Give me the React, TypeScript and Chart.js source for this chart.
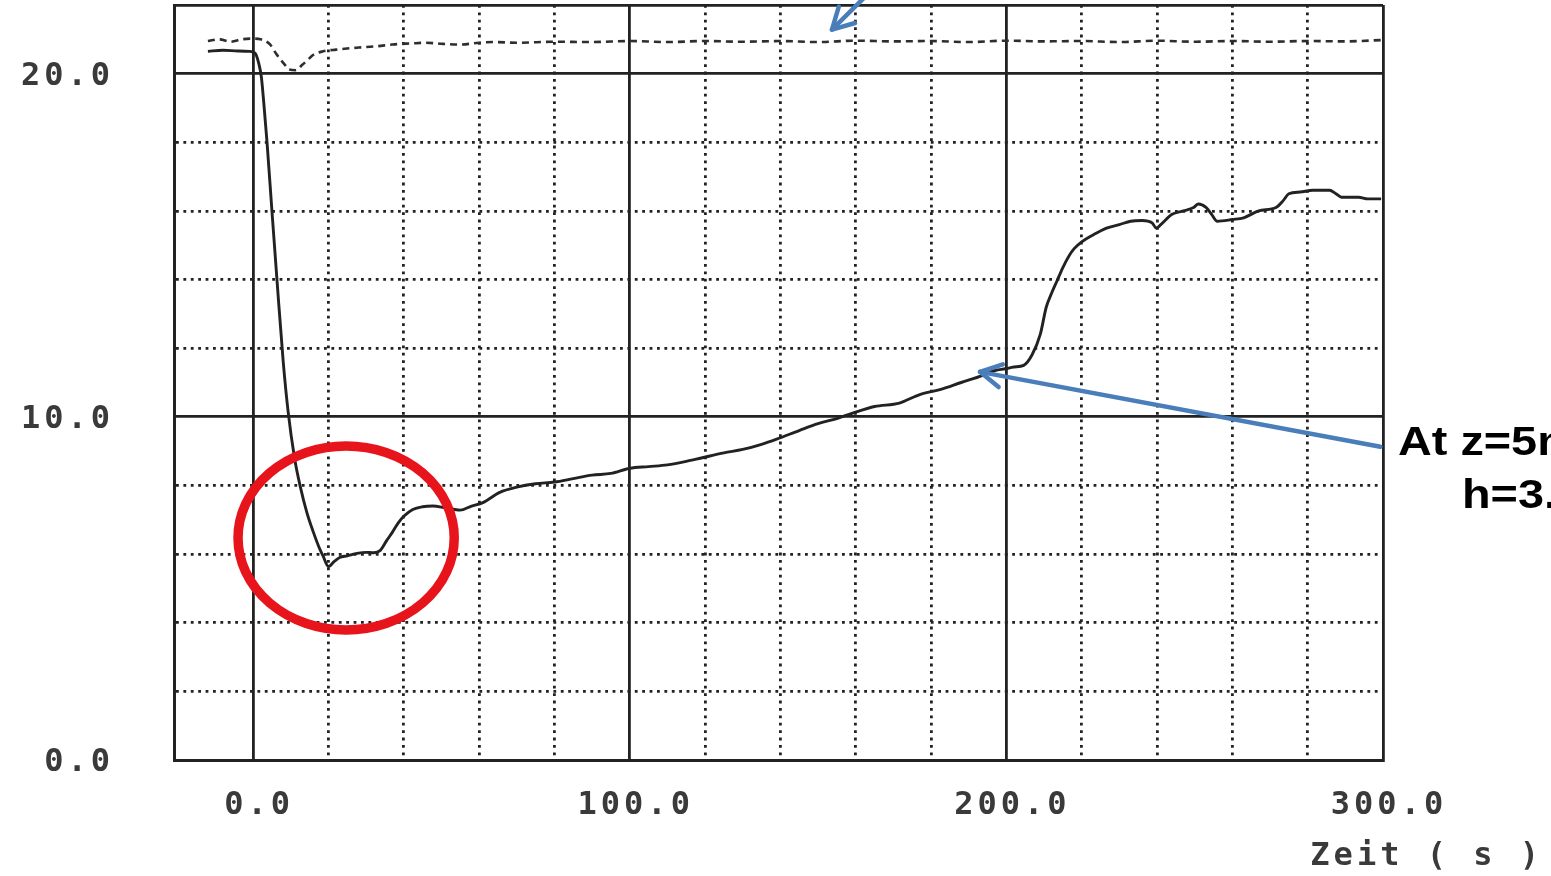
import React, { useEffect, useRef } from "react";
import { Chart, registerables } from "chart.js";

Chart.register(...registerables);

// ---- axis ticks / labels ----
const X_MIN = -21;
const X_MAX = 300;
const X_STEP = 20;
const Y_MIN = 0;
const Y_MAX = 22;
const Y_STEP = 2;
const xTickValues = [0, 100, 200, 300];
const xTickLabels = ["0.0", "100.0", "200.0", "300.0"];
const yTickValues = [0, 10, 20];
const yTickLabels = ["0.0", "10.0", "20.0"];
const xAxisTitle = "Zeit ( s )";
const calloutLines = ["At z=5m", "h=3."];

// ---- solid trace ----
const solidTimes = [
  -12, -8, -4, -1, 0.5, 1.5, 2.2, 2.8, 3.7, 5, 6.4, 8, 9.3, 11, 12.5, 14.3, 16, 17.5, 18.6, 20,
  21.5, 23, 25, 27.6, 30, 32, 33.7, 35.5, 37, 38.5, 40, 42.4, 45, 47.7, 51, 55, 58, 61, 65.5, 70,
  75, 80, 85, 90, 95, 100, 105, 110, 115, 119, 125, 130, 135, 139, 145, 150, 155, 159, 165, 171.6,
  177, 182.6, 188, 193.6, 197, 199.7, 202, 204.6, 206.8, 209, 210.6, 212, 213.4, 215, 216.7, 218, 220, 223, 226.6, 230,
  233, 236, 238.7, 239.8, 241, 244, 247, 249.7, 251, 253, 254.5, 256, 260, 263, 267, 271.6, 273.5, 275, 278, 281.4,
  285.8, 287.5, 289, 293.5, 296, 299.5,
];
const solidValues = [
  20.65, 20.68, 20.66, 20.65, 20.6, 20.3, 19.9, 19.2, 18.0, 16.0, 13.9, 11.6, 10.15, 8.8, 7.98, 7.2, 6.64, 6.2, 5.94, 5.64,
  5.78, 5.9, 5.95, 6.02, 6.05, 6.04, 6.1, 6.4, 6.64, 6.9, 7.1, 7.3, 7.38, 7.4, 7.35, 7.28, 7.4, 7.5, 7.8, 7.95,
  8.05, 8.1, 8.2, 8.3, 8.35, 8.5, 8.55, 8.6, 8.7, 8.8, 8.95, 9.05, 9.2, 9.35, 9.6, 9.8, 9.95, 10.1, 10.3, 10.4,
  10.65, 10.8, 11.0, 11.2, 11.35, 11.4, 11.45, 11.5, 11.8, 12.4, 13.2, 13.6, 13.95, 14.35, 14.7, 14.9, 15.1, 15.3, 15.5, 15.6,
  15.7, 15.72, 15.65, 15.5, 15.6, 15.9, 16.0, 16.1, 16.2, 16.1, 15.9, 15.7, 15.75, 15.8, 16.0, 16.1, 16.3, 16.5, 16.55, 16.6,
  16.6, 16.5, 16.4, 16.4, 16.35, 16.35,
];

// ---- dashed trace ----
const dashedTimes = [
  -12, -9, -6, -3, 0, 2, 4.5, 6, 7, 8.5, 9.5, 11.4, 13, 14.5, 16, 18.6, 22, 28, 33, 37,
  42, 46, 50, 55, 60, 64, 70, 80, 90, 100, 110, 120, 130, 140, 150, 160, 170, 180, 190, 200,
  210, 220, 230, 240, 250, 260, 270, 280, 290, 300,
];
const dashedValues = [
  20.95, 21.0, 20.93, 21.0, 21.02, 21.0, 20.85, 20.6, 20.45, 20.25, 20.12, 20.1, 20.25, 20.4, 20.55, 20.65, 20.7, 20.76, 20.8, 20.85,
  20.88, 20.9, 20.87, 20.85, 20.9, 20.92, 20.9, 20.93, 20.92, 20.95, 20.92, 20.95, 20.93, 20.95, 20.92, 20.96, 20.94, 20.95, 20.92, 20.96,
  20.94, 20.95, 20.92, 20.96, 20.93, 20.95, 20.93, 20.95, 20.94, 20.98,
];

// ---- annotations (data coordinates) ----
const ring = { x: 24.7, y: 6.47, rx: 28.7, ry: 2.68 };
const pointerMain = { from: { x: 299.3, y: 9.13 }, to: { x: 193, y: 11.31 } };
const pointerTop = { from: { x: 163.5, y: 22.35 }, to: { x: 153.7, y: 21.28 } };

const INK = "#222222";
const LABEL_INK = "#3a3a3a";
const MONO = '"DejaVu Sans Mono", monospace';

function isXMajor(v: number) {
  return xTickValues.includes(v) || v <= X_MIN;
}
function isYMajor(v: number) {
  return yTickValues.includes(v) || v >= Y_MAX;
}

function drawArrow(ctx: CanvasRenderingContext2D, x1: number, y1: number, x2: number, y2: number) {
  ctx.strokeStyle = "#4a7ebb";
  ctx.lineWidth = 4.5;
  ctx.lineCap = "round";
  ctx.lineJoin = "round";
  ctx.beginPath();
  ctx.moveTo(x1, y1);
  ctx.lineTo(x2, y2);
  ctx.stroke();
  const ang = Math.atan2(y1 - y2, x1 - x2);
  const head = 24;
  const a = 0.5;
  ctx.beginPath();
  ctx.moveTo(x2 + head * Math.cos(ang + a), y2 + head * Math.sin(ang + a));
  ctx.lineTo(x2, y2);
  ctx.lineTo(x2 + head * Math.cos(ang - a), y2 + head * Math.sin(ang - a));
  ctx.stroke();
}

const plotterPlugin = {
  id: "plotterLook",
  beforeDraw(chart: any) {
    const ctx = chart.ctx as any;
    ctx.letterSpacing = "4px";
  },
  afterDraw(chart: any) {
    const ctx = chart.ctx as CanvasRenderingContext2D & { letterSpacing: string };
    const x = chart.scales.x;
    const y = chart.scales.y;
    ctx.save();
    ctx.letterSpacing = "0px";

    // red ring
    const cx = x.getPixelForValue(ring.x);
    const cy = y.getPixelForValue(ring.y);
    const rx = Math.abs(x.getPixelForValue(ring.x + ring.rx) - cx);
    const ry = Math.abs(y.getPixelForValue(ring.y + ring.ry) - cy);
    ctx.beginPath();
    ctx.ellipse(cx, cy, rx, ry, 0, 0, Math.PI * 2);
    ctx.strokeStyle = "#e8141c";
    ctx.lineWidth = 9.5;
    ctx.stroke();

    // arrows
    drawArrow(
      ctx,
      x.getPixelForValue(pointerMain.from.x),
      y.getPixelForValue(pointerMain.from.y),
      x.getPixelForValue(pointerMain.to.x),
      y.getPixelForValue(pointerMain.to.y)
    );
    drawArrow(
      ctx,
      x.getPixelForValue(pointerTop.from.x),
      y.getPixelForValue(pointerTop.from.y),
      x.getPixelForValue(pointerTop.to.x),
      y.getPixelForValue(pointerTop.to.y)
    );

    // callout text
    ctx.fillStyle = "#000";
    ctx.font = 'bold 40px "Liberation Sans", Arial, sans-serif';
    ctx.textBaseline = "alphabetic";
    ctx.textAlign = "left";
    const base = y.getPixelForValue(10);
    const lines = [
      { t: calloutLines[0], px: x.right + 15, py: base + 38 },
      { t: calloutLines[1], px: x.right + 79, py: base + 91 },
    ];
    for (const l of lines) {
      ctx.save();
      ctx.translate(l.px, l.py);
      ctx.scale(1.17, 1);
      ctx.fillText(l.t, 0, 0);
      ctx.restore();
    }
    ctx.restore();
  },
};

export default function App() {
  const ref = useRef<HTMLCanvasElement>(null);

  useEffect(() => {
    const canvas = ref.current;
    if (!canvas) return;
    const solid = solidTimes.map((t, i) => ({ x: t, y: solidValues[i] }));
    const dashed = dashedTimes.map((t, i) => ({ x: t, y: dashedValues[i] }));

    const chart = new Chart(canvas, {
      type: "line",
      data: {
        datasets: [
          {
            label: "z=5m",
            data: solid,
            borderColor: "#222",
            borderWidth: 2.9,
            pointRadius: 0,
            cubicInterpolationMode: "monotone",
            fill: false,
          },
          {
            label: "reference",
            data: dashed,
            borderColor: "#2e2e2e",
            borderWidth: 2.6,
            borderDash: [7, 5],
            pointRadius: 0,
            cubicInterpolationMode: "monotone",
            fill: false,
          },
        ],
      },
      options: {
        animation: false,
        responsive: false,
        devicePixelRatio: 1,
        layout: { padding: { top: 5, left: 0, right: 8, bottom: 0 } },
        plugins: {
          legend: { display: false },
          tooltip: { enabled: false },
          title: {
            display: true,
            text: xAxisTitle,
            position: "bottom",
            align: "end",
            color: LABEL_INK,
            font: { family: MONO, size: 32, weight: "bold" },
            padding: { top: 0, bottom: 0 },
          },
        },
        scales: {
          x: {
            type: "linear",
            min: X_MIN,
            max: X_MAX,
            afterFit: (s: any) => {
              s.height = 77.6;
              s.paddingLeft = 0;
              s.paddingRight = 0;
            },
            ticks: {
              stepSize: X_STEP,
              autoSkip: false,
              maxRotation: 0,
              minRotation: 0,
              padding: 26,
              labelOffset: 6,
              color: LABEL_INK,
              font: { family: MONO, size: 32, weight: "bold" },
              callback: (v: any) => {
                const i = xTickValues.indexOf(Number(v));
                return i >= 0 ? xTickLabels[i] : "";
              },
            },
            grid: {
              drawTicks: false,
              color: (c: any) => (c.tick && c.tick.value < 0 ? "rgba(0,0,0,0)" : INK),
              lineWidth: (c: any) => (c.tick && isXMajor(c.tick.value) ? 2.8 : 2.8),
            },
            border: {
              display: true,
              color: INK,
              width: 3,
              dash: (c: any) => (c.tick && !isXMajor(c.tick.value) ? [2.8, 4.6] : []),
            },
          },
          y: {
            type: "linear",
            min: Y_MIN,
            max: Y_MAX,
            afterFit: (s: any) => {
              s.width = 174;
              s.paddingTop = 0;
              s.paddingBottom = 0;
            },
            ticks: {
              stepSize: Y_STEP,
              autoSkip: false,
              padding: 60,
              labelOffset: 3,
              color: LABEL_INK,
              font: { family: MONO, size: 32, weight: "bold" },
              callback: (v: any) => {
                const i = yTickValues.indexOf(Number(v));
                return i >= 0 ? yTickLabels[i] : "";
              },
            },
            grid: {
              drawTicks: false,
              color: INK,
              lineWidth: 2.8,
            },
            border: {
              display: true,
              color: INK,
              width: 3,
              dash: (c: any) => (c.tick && !isYMajor(c.tick.value) ? [2.8, 4.6] : []),
            },
          },
          yr: {
            type: "linear",
            position: "right",
            display: true,
            afterFit: (s: any) => {
              s.width = 160;
              s.paddingTop = 0;
              s.paddingBottom = 0;
            },
            grid: { display: false, drawTicks: false },
            border: { display: false },
            ticks: { display: false },
          },
        },
      } as any,
      plugins: [plotterPlugin],
    });

    return () => chart.destroy();
  }, []);

  return (
    <div
      style={{
        position: "fixed",
        left: 0,
        top: 0,
        width: 1551,
        height: 876,
        background: "#fff",
        overflow: "hidden",
      }}
    >
      <canvas ref={ref} width={1551} height={876} style={{ display: "block" }} />
    </div>
  );
}
